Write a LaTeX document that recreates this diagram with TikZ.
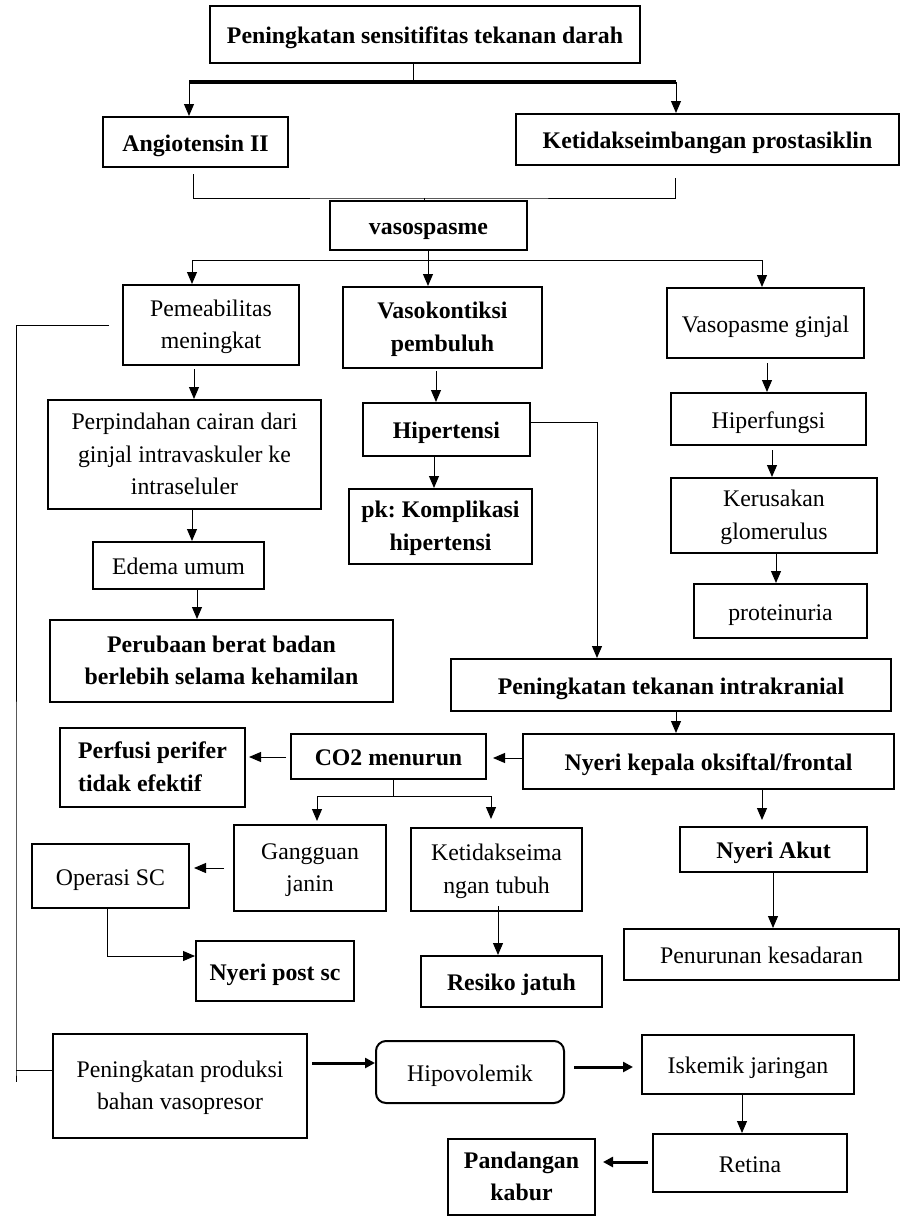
\documentclass[tikz,border=0pt]{standalone}
\usepackage{fontspec}
\setmainfont{Liberation Serif}
\usetikzlibrary{arrows.meta}
\frenchspacing

\begin{document}
\begin{tikzpicture}[x=0.5pt, y=-0.5pt,
    font=\fontsize{11.9}{16.3}\selectfont,
    box/.style={draw, line width=1pt, align=center, inner sep=2pt},
    tebal/.style={box, font=\fontsize{11.9}{16.3}\selectfont\bfseries},
    satu/.style={text height=9pt, text depth=0pt},
    dua/.style={text height=24.8pt, text depth=1pt},
    tiga/.style={text height=41.1pt, text depth=1pt},
    garis/.style={line width=0.5pt},
    panah/.style={garis, -{Triangle[width=5pt,length=6pt]}},
    panahtebal/.style={line width=1.5pt, -{Triangle[width=5pt,length=5pt]}}]
  \useasboundingbox (0,0) rectangle (900,1216);

  % Bagian atas
  \node[tebal, satu, minimum width=215pt, minimum height=28.5pt] (top) at (425,34.5) {Peningkatan sensitifitas tekanan darah};
  \node[tebal, satu, minimum width=92.5pt, minimum height=25pt] (angio) at (195.5,142) {Angiotensin II};
  \node[tebal, satu, minimum width=191.5pt, minimum height=25.5pt] (ketid) at (707.5,139.5) {Ketidakseimbangan prostasiklin};
  \node[tebal, satu, minimum width=98.5pt, minimum height=24.5pt] (vaso) at (428.5,225.5) {vasospasme};

  \coordinate (barm) at (413,82);
  \coordinate (barl) at (189,82);
  \coordinate (barr) at (676,82);
  \draw[garis] (top.south -| barm) -- (barm);
  \draw[line width=2pt] (barl) -- (barr);
  \draw[panah] (barl) -- (barl |- angio.north);
  \draw[panah] (barr) -- (barr |- ketid.north);

  \coordinate (j1) at (424,198);
  \draw[garis] ([yshift=-3pt]angio.south -| 193,0) |- (j1) -| ([yshift=-6pt]ketid.south -| 675,0);
  \draw[garis] (j1) -- (vaso.north -| j1);

  % Tiga cabang
  \node[box, dua, minimum width=88pt, minimum height=40pt] (pem) at (211,325) {Pemeabilitas\\meningkat};
  \node[tebal, dua, minimum width=99.5pt, minimum height=40.5pt] (vasok) at (442.5,327.5) {Vasokontiksi\\pembuluh};
  \node[box, satu, minimum width=98.5pt, minimum height=35pt] (vgin) at (765.5,323) {Vasopasme ginjal};

  \coordinate (j2) at (428,260);
  \draw[garis] (vaso.south -| j2) -- (j2);
  \draw[panah] (j2) -- (vasok.north -| j2);
  \draw[panah] (j2) -| (pem.north -| 192,0);
  \draw[panah] (j2) -| (vgin.north -| 762,0);

  % Cabang kiri
  \node[box, tiga, minimum width=136.5pt, minimum height=54.5pt] (perp) at (184.5,454.5) {Perpindahan cairan dari\\ginjal intravaskuler ke\\intraseluler};
  \node[box, satu, minimum width=85.5pt, minimum height=23.5pt] (edema) at (178.5,565.5) {Edema umum};
  \node[tebal, dua, minimum width=171.5pt, minimum height=41pt] (perub) at (221.5,661) {Perubaan berat badan\\berlebih selama kehamilan};
  \draw[panah] ([yshift=-1.5pt]pem.south -| 194,0) -- (perp.north -| 194,0);
  \draw[panah] (perp.south -| 192,0) -- (edema.north -| 192,0);
  \draw[panah] (edema.south -| 197,0) -- (perub.north -| 197,0);

  % Cabang tengah
  \node[tebal, satu, minimum width=83.5pt, minimum height=26.5pt] (hip) at (446.5,429.5) {Hipertensi};
  \node[tebal, dua, minimum width=91.5pt, minimum height=37.5pt] (pk) at (440.5,526.5) {pk: Komplikasi\\hipertensi};
  \draw[panah] ([yshift=-1pt]vasok.south -| 436,0) -- (hip.north -| 436,0);
  \draw[panah] (hip.south -| 434,0) -- (pk.north -| 434,0);

  % Cabang kanan
  \node[box, satu, minimum width=97.5pt, minimum height=26pt] (hiperf) at (768.5,419) {Hiperfungsi};
  \node[box, dua, minimum width=103pt, minimum height=37.5pt] (keru) at (774,515.5) {Kerusakan\\glomerulus};
  \node[box, satu, minimum width=86.5pt, minimum height=27pt] (prot) at (780.5,611) {proteinuria};
  \draw[panah] ([yshift=-2pt]vgin.south -| 767,0) -- (hiperf.north -| 767,0);
  \draw[panah] ([yshift=-2pt]hiperf.south -| 772,0) -- (keru.north -| 772,0);
  \draw[panah] (keru.south -| 776,0) -- (prot.north -| 776,0);

  % Tekanan intrakranial
  \node[tebal, satu, minimum width=220pt, minimum height=26pt] (ptik) at (671,685) {Peningkatan tekanan intrakranial};
  \node[tebal, satu, minimum width=185.5pt, minimum height=27.5pt] (nkep) at (708.5,761.5) {Nyeri kepala oksiftal/frontal};
  \node[tebal, satu, minimum width=97.5pt, minimum height=22.5pt] (co2) at (388.5,756.5) {CO2 menurun};
  \node[tebal, dua, align=left, minimum width=92.5pt, minimum height=39.5pt] (perf) at (152.5,767.5) {Perfusi perifer\\tidak efektif};
  \draw[panah] (hip.east |- 0,422) -| (ptik.north -| 597,0);
  \draw[panah] (ptik.south -| 676,0) -- (nkep.north -| 676,0);
  \draw[panah, shorten >=3pt] (nkep.west |- 0,758) -- (co2.east |- 0,758);
  \draw[panah, shorten <=2pt, shorten >=1.5pt] (co2.west |- 0,757) -- (perf.east |- 0,757);

  % Bawah CO2
  \node[box, dua, minimum width=76pt, minimum height=43pt] (gang) at (310,868) {Gangguan\\janin};
  \node[box, dua, minimum width=85.5pt, minimum height=41.5pt] (ketb) at (496.5,869.5) {Ketidakseima\\ngan tubuh};
  \node[box, satu, minimum width=78.5pt, minimum height=32pt] (opsc) at (110.5,876) {Operasi SC};
  \node[tebal, satu, minimum width=79pt, minimum height=30pt] (npsc) at (275,971) {Nyeri post sc};
  \node[tebal, satu, minimum width=90.5pt, minimum height=25.5pt] (resj) at (511.5,981.5) {Resiko jatuh};
  \coordinate (j3) at (393,796);
  \draw[garis] (co2.south -| j3) -- (j3);
  \draw[panah, shorten >=1.5pt] (j3) -| (gang.north -| 317,0);
  \draw[panah, shorten >=4pt] (j3) -| (ketb.north -| 491,0);
  \draw[panah, shorten <=4.5pt, shorten >=2pt] (gang.west |- 0,868) -- (opsc.east |- 0,868);
  \draw[panah] (opsc.south -| 107,0) |- (npsc.west |- 0,956);
  \draw[panah] ([yshift=3pt]ketb.south -| 498,0) -- (resj.north -| 498,0);

  % Nyeri akut
  \node[tebal, satu, minimum width=93.5pt, minimum height=22.5pt] (nakut) at (773.5,849.5) {Nyeri Akut};
  \node[box, satu, minimum width=137.5pt, minimum height=25.5pt] (penur) at (761.5,954.5) {Penurunan kesadaran};
  \draw[panah, shorten >=3pt] (nkep.south -| 762,0) -- (nakut.north -| 762,0);
  \draw[panah] (nakut.south -| 773,0) -- (penur.north -| 773,0);

  % Baris paling bawah
  \node[box, dua, minimum width=127pt, minimum height=52pt] (prod) at (180,1086) {Peningkatan produksi\\bahan vasopresor};
  \node[box, satu, rounded corners=5pt, minimum width=94pt, minimum height=31pt] (hipov) at (470,1072) {Hipovolemik};
  \node[box, satu, minimum width=106pt, minimum height=29.5pt] (iskem) at (748,1064.5) {Iskemik jaringan};
  \node[box, satu, minimum width=97pt, minimum height=29pt] (retina) at (750,1163) {Retina};
  \node[tebal, dua, minimum width=73.5pt, minimum height=38pt] (pand) at (521.5,1177) {Pandangan\\kabur};

  \coordinate (lft) at (16,1070);
  \draw[garis] ([xshift=-6.5pt]pem.west) -| (lft) -- ++(0,12);
  \draw[garis] (lft) -- (prod.west |- lft);
  \draw[panahtebal, shorten <=2pt] (prod.east |- 0,1063) -- (hipov.west |- 0,1063);
  \draw[panahtebal, shorten <=4.5pt, shorten >=4pt] (hipov.east |- 0,1067) -- (iskem.west |- 0,1067);
  \draw[panah] (iskem.south -| 742,0) -- (retina.north -| 742,0);
  \draw[panahtebal, shorten <=2pt, shorten >=3.5pt] (retina.west |- 0,1162) -- (pand.east |- 0,1162);
\end{tikzpicture}
\end{document}
